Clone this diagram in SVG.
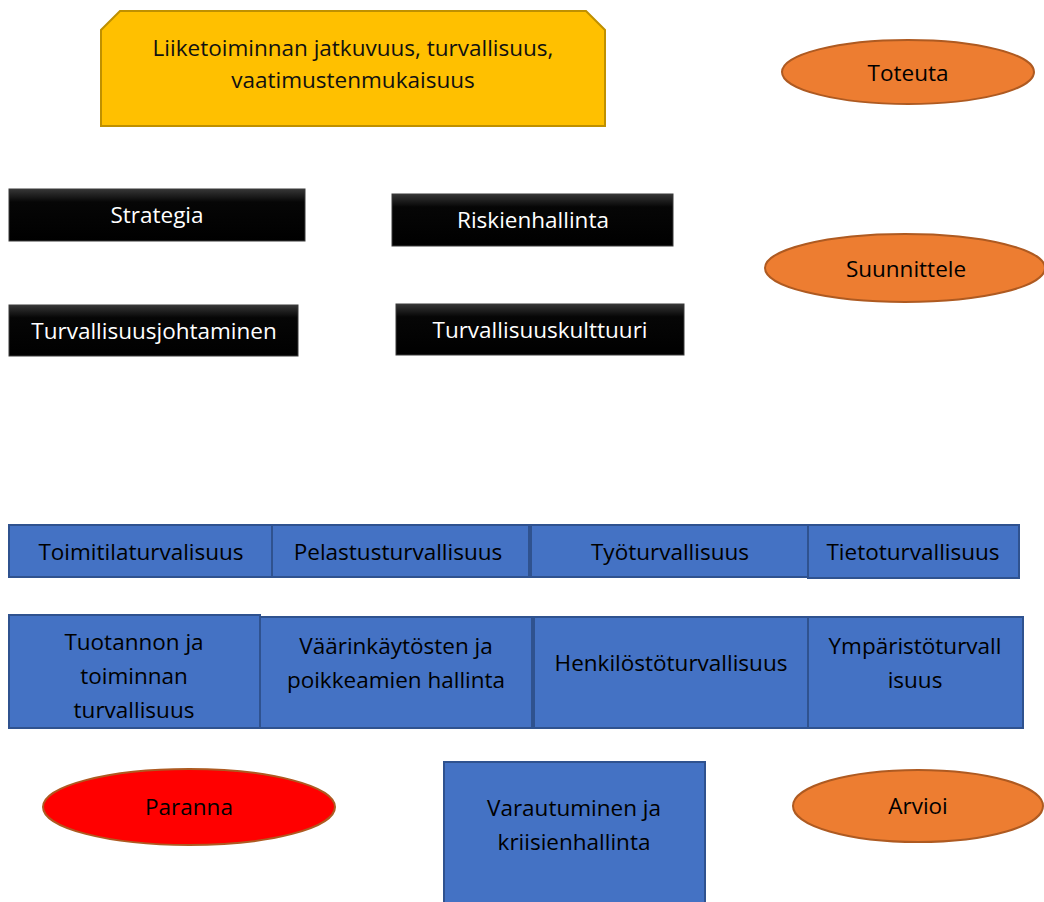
<svg xmlns="http://www.w3.org/2000/svg" width="1044" height="902" viewBox="0 0 1044 902">
<defs>
<linearGradient id="blk" x1="0" y1="0" x2="0" y2="1">
<stop offset="0" stop-color="#363636"/>
<stop offset="0.25" stop-color="#060606"/>
<stop offset="1" stop-color="#000"/>
</linearGradient>
</defs>
<style>
text{font-family:"Open Sans","Liberation Sans",Arial,sans-serif;font-size:22.5px;text-anchor:middle;dominant-baseline:central}
.blk rect{fill:url(#blk);stroke:#3a3a3a;stroke-width:1}
.blk text{fill:#fff}
.blue rect{fill:#4472C4;stroke:#2F528F;stroke-width:2}
.blue text{fill:#000}
.ora ellipse{fill:#ED7D31;stroke:#AE5A21;stroke-width:2}
.red ellipse{fill:#FF0000;stroke:#AE5A21;stroke-width:2}
.ora text,.red text{fill:#000}
</style>
<g id="connectors"/>
<g id="goal">
<path d="M120 11 H586 L605 30 V126 H101 V30 Z" fill="#FFC000" stroke="#BF9000" stroke-width="2"/>
<text x="353" y="47" fill="#111">Liiketoiminnan jatkuvuus, turvallisuus,</text>
<text x="353" y="79" fill="#111">vaatimustenmukaisuus</text>
</g>
<g id="toteuta" class="ora"><ellipse cx="908" cy="72" rx="126" ry="32"/><text x="908" y="72">Toteuta</text></g>
<g id="suunnittele" class="ora"><ellipse cx="905" cy="268" rx="140" ry="34"/><text x="906" y="268">Suunnittele</text></g>
<g id="strategia" class="blk"><rect x="9" y="189" width="296" height="52"/><text x="157" y="214">Strategia</text></g>
<g id="riskienhallinta" class="blk"><rect x="392" y="194" width="281" height="52"/><text x="533" y="219">Riskienhallinta</text></g>
<g id="turvallisuusjohtaminen" class="blk"><rect x="9" y="305" width="289" height="51"/><text x="154" y="330">Turvallisuusjohtaminen</text></g>
<g id="turvallisuuskulttuuri" class="blk"><rect x="396" y="304" width="288" height="51"/><text x="540" y="329">Turvallisuuskulttuuri</text></g>
<g id="toimitila" class="blue"><rect x="9" y="525" width="263" height="52"/><text x="141" y="551">Toimitilaturvalisuus</text></g>
<g id="pelastus" class="blue"><rect x="272" y="525" width="257" height="52"/><text x="398" y="551">Pelastusturvallisuus</text></g>
<g id="tyo" class="blue"><rect x="531" y="525" width="277" height="52"/><text x="670" y="551">Työturvallisuus</text></g>
<g id="tieto" class="blue"><rect x="808" y="525" width="211" height="53"/><text x="913" y="551">Tietoturvallisuus</text></g>
<g id="tuotanto" class="blue"><rect x="9" y="615" width="251" height="113"/><text x="134" y="641">Tuotannon ja</text><text x="134" y="675">toiminnan</text><text x="134" y="709">turvallisuus</text></g>
<g id="vaarinkaytos" class="blue"><rect x="260" y="617" width="272" height="111"/><text x="396" y="645">Väärinkäytösten ja</text><text x="396" y="679">poikkeamien hallinta</text></g>
<g id="henkilosto" class="blue"><rect x="534" y="617" width="274" height="111"/><text x="671" y="662">Henkilöstöturvallisuus</text></g>
<g id="ymparisto" class="blue"><rect x="808" y="617" width="215" height="111"/><text x="915" y="645">Ympäristöturvall</text><text x="915" y="679">isuus</text></g>
<g id="paranna" class="red"><ellipse cx="189" cy="807" rx="146" ry="38"/><text x="189" y="806">Paranna</text></g>
<g id="varautuminen" class="blue"><rect x="444" y="762" width="261" height="150"/><text x="574" y="807">Varautuminen ja</text><text x="574" y="841">kriisienhallinta</text></g>
<g id="arvioi" class="ora"><ellipse cx="918" cy="806" rx="125" ry="36"/><text x="918" y="805">Arvioi</text></g>
</svg>
